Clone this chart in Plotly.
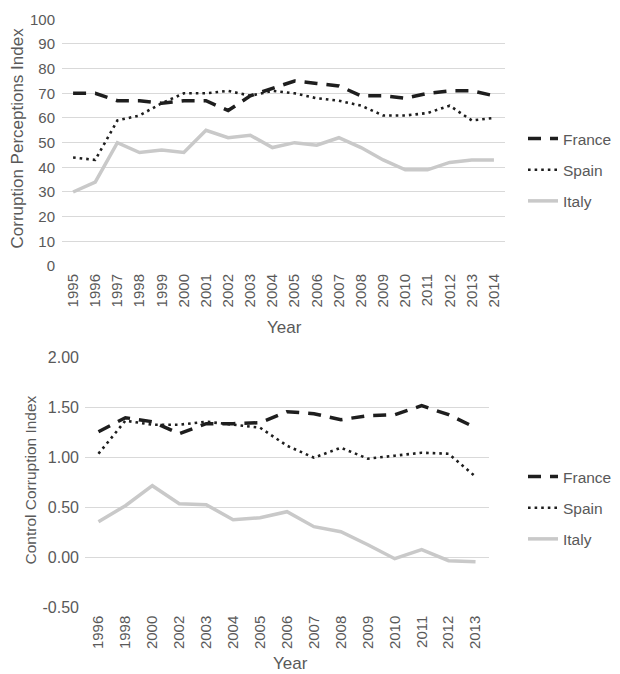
import plotly.graph_objects as go

# ---- data: top chart (Corruption Perceptions Index) ----
cpi_years = ["1995", "1996", "1997", "1998", "1999", "2000", "2001", "2002", "2003", "2004",
             "2005", "2006", "2007", "2008", "2009", "2010", "2011", "2012", "2013", "2014"]
cpi_france = [70, 70, 67, 67, 66, 67, 67, 63, 69, 72, 75, 74, 73, 69, 69, 68, 70, 71, 71, 69]
cpi_spain = [44, 43, 59, 61, 66, 70, 70, 71, 69, 71, 70, 68, 67, 65, 61, 61, 62, 65, 59, 60]
cpi_italy = [30, 34, 50, 46, 47, 46, 55, 52, 53, 48, 50, 49, 52, 48, 43, 39, 39, 42, 43, 43]

# ---- data: bottom chart (Control of Corruption Index) ----
cc_years = ["1996", "1998", "2000", "2002", "2003", "2004", "2005", "2006", "2007",
            "2008", "2009", "2010", "2011", "2012", "2013"]
cc_france = [1.26, 1.40, 1.36, 1.24, 1.34, 1.34, 1.35, 1.46, 1.44, 1.38, 1.42, 1.43, 1.52, 1.43, 1.30]
cc_spain = [1.04, 1.37, 1.33, 1.33, 1.36, 1.33, 1.30, 1.12, 1.00, 1.10, 0.99, 1.02, 1.05, 1.04, 0.81]
cc_italy = [0.36, 0.52, 0.72, 0.54, 0.53, 0.38, 0.40, 0.46, 0.31, 0.26, 0.13, -0.01, 0.08, -0.03, -0.04]

cpi_ticks = [0, 10, 20, 30, 40, 50, 60, 70, 80, 90, 100]
cc_ticks = [-0.5, 0.0, 0.5, 1.0, 1.5, 2.0]
cc_ticktext = ["-0.50", "0.00", "0.50", "1.00", "1.50", "2.00"]

W, H = 620, 674
TXT = "#595959"
GRID = "#d9d9d9"
FONT = "Liberation Sans, Arial, sans-serif"

def px_x(p):
    return p / W

def px_y(p):
    return 1 - p / H

styles = {
    "France": dict(color="#1e1e1e", width=3.5, dash="13px,9px"),
    "Spain": dict(color="#1e1e1e", width=2.6, dash="2.6px,4px"),
    "Italy": dict(color="#c9c9c9", width=3.5, dash="solid"),
}

fig = go.Figure()

top_series = [("France", cpi_france), ("Spain", cpi_spain), ("Italy", cpi_italy)]
for name, vals in top_series:
    fig.add_trace(go.Scatter(x=cpi_years, y=vals, name=name, mode="lines",
                             line=styles[name], xaxis="x", yaxis="y",
                             legend="legend", legendgroup="t" + name))

bot_series = [("France", cc_france), ("Spain", cc_spain), ("Italy", cc_italy)]
for name, vals in bot_series:
    fig.add_trace(go.Scatter(x=cc_years, y=vals, name=name, mode="lines",
                             line=styles[name], xaxis="x2", yaxis="y2",
                             legend="legend2", legendgroup="b" + name))

fig.update_layout(
    width=W, height=H,
    margin=dict(l=0, r=0, t=0, b=0, pad=0, autoexpand=False),
    paper_bgcolor="white", plot_bgcolor="white",
    font=dict(family=FONT, color=TXT),
    xaxis=dict(domain=[px_x(62), px_x(505)], type="category",
               categoryorder="array", categoryarray=cpi_years,
               range=[-0.5, len(cpi_years) - 0.5], showgrid=False, zeroline=False,
               showline=False, tickangle=-90, tickfont=dict(size=15, color=TXT),
               ticks="", ticklabelstandoff=4, anchor="y", automargin=False),
    yaxis=dict(domain=[px_y(266), px_y(19.3)], range=[0, 100], tickvals=cpi_ticks,
               showgrid=True, gridcolor=GRID, gridwidth=1, zeroline=False,
               showline=False, tickfont=dict(size=15, color=TXT), ticks="",
               ticklabelstandoff=6, anchor="x", automargin=False),
    xaxis2=dict(domain=[px_x(85), px_x(489)], type="category",
                categoryorder="array", categoryarray=cc_years,
                range=[-0.5, len(cc_years) - 0.5], showgrid=False, zeroline=False,
                showline=False, tickangle=-90, tickfont=dict(size=15, color=TXT),
                ticks="", ticklabelstandoff=4, anchor="y2", automargin=False),
    yaxis2=dict(domain=[px_y(607.7), px_y(357.7)], range=[-0.5, 2.0], tickvals=cc_ticks,
                ticktext=cc_ticktext, showgrid=True, gridcolor=GRID, gridwidth=1,
                zeroline=False, showline=False, tickfont=dict(size=16, color=TXT),
                ticks="", ticklabelstandoff=5, anchor="x2", automargin=False),
    legend=dict(x=px_x(523), y=px_y(122), xanchor="left", yanchor="top",
                font=dict(size=15.5, color=TXT), tracegroupgap=8,
                traceorder="grouped", bgcolor="rgba(0,0,0,0)"),
    legend2=dict(x=px_x(523), y=px_y(460), xanchor="left", yanchor="top",
                 font=dict(size=15.5, color=TXT), tracegroupgap=8,
                 traceorder="grouped", bgcolor="rgba(0,0,0,0)"),
    annotations=[
        dict(text="Corruption Perceptions Index", x=px_x(17.5), y=px_y(138),
             xref="paper", yref="paper", textangle=-90, showarrow=False,
             font=dict(size=17, color=TXT), xanchor="center", yanchor="middle"),
        dict(text="Year", x=px_x(284), y=px_y(327), xref="paper", yref="paper",
             showarrow=False, font=dict(size=17, color=TXT),
             xanchor="center", yanchor="middle"),
        dict(text="Control Corruption Index", x=px_x(29.5), y=px_y(480),
             xref="paper", yref="paper", textangle=-90, showarrow=False,
             font=dict(size=15.5, color=TXT), xanchor="center", yanchor="middle"),
        dict(text="Year", x=px_x(290), y=px_y(663), xref="paper", yref="paper",
             showarrow=False, font=dict(size=17, color=TXT),
             xanchor="center", yanchor="middle"),
    ],
)

fig.write_html("out.html",
               config={"displayModeBar": False},
               post_script="document.body.style.margin='0px';document.body.style.padding='0px';")
